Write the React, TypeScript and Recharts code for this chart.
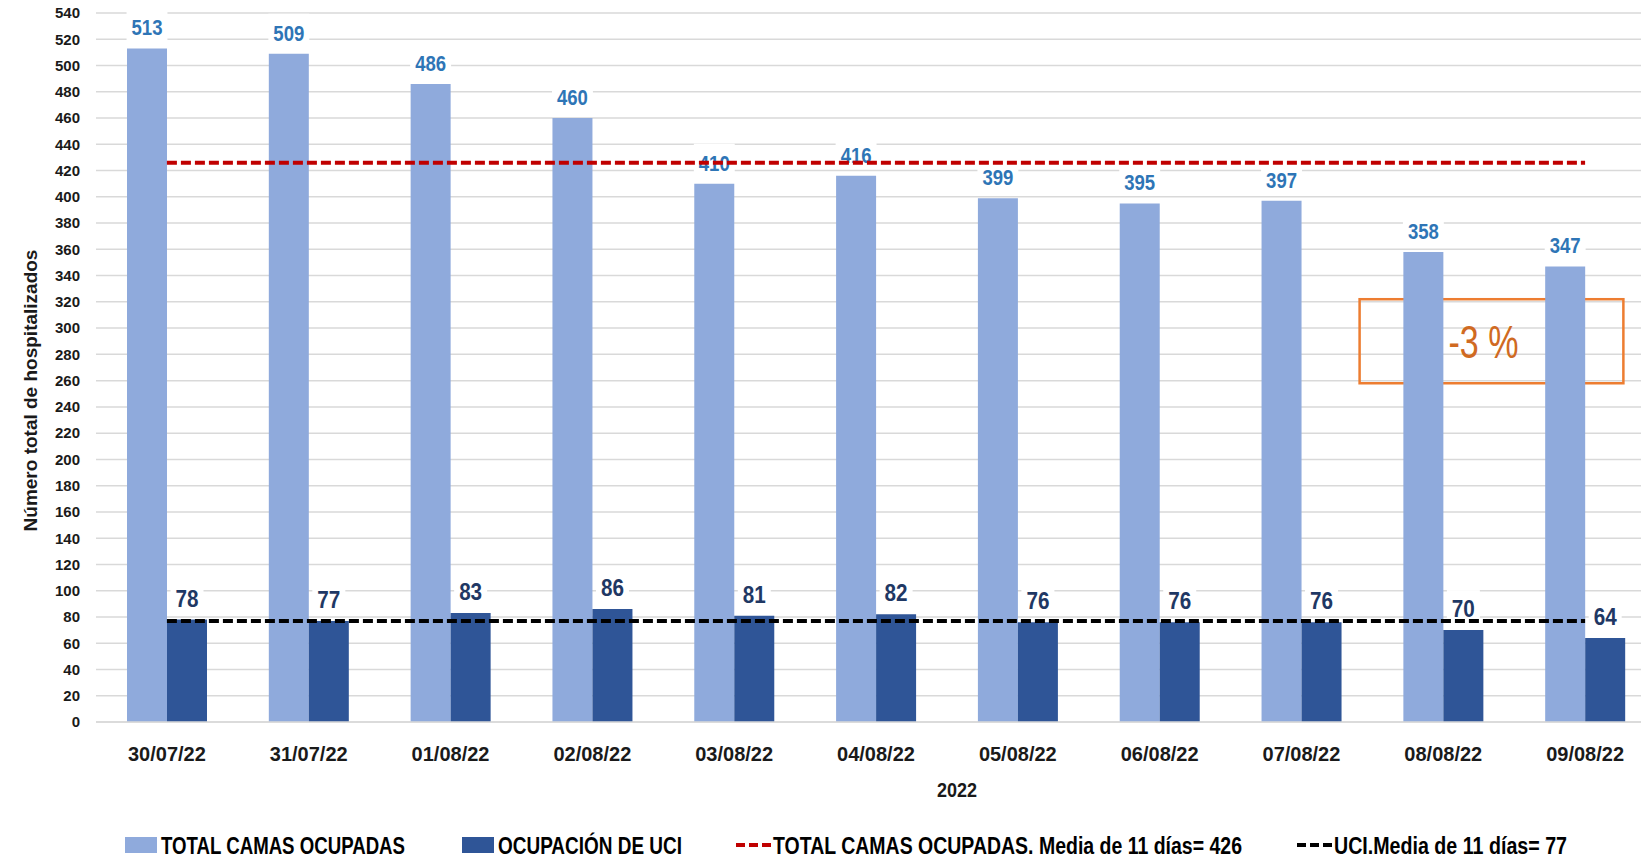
import {
  ComposedChart,
  Bar,
  Line,
  XAxis,
  YAxis,
  CartesianGrid,
  LabelList,
  Label,
  ReferenceArea,
} from "recharts";

// fechas del eje X
const fechas = [
  "30/07/22",
  "31/07/22",
  "01/08/22",
  "02/08/22",
  "03/08/22",
  "04/08/22",
  "05/08/22",
  "06/08/22",
  "07/08/22",
  "08/08/22",
  "09/08/22",
];
const totalCamas = [513, 509, 486, 460, 410, 416, 399, 395, 397, 358, 347];
const camasUci = [78, 77, 83, 86, 81, 82, 76, 76, 76, 70, 64];
const mediaTotal = 426;
const mediaUci = 77;
const yTicks = [
  0, 20, 40, 60, 80, 100, 120, 140, 160, 180, 200, 220, 240, 260, 280, 300, 320,
  340, 360, 380, 400, 420, 440, 460, 480, 500, 520, 540,
];
const variacion = "-3 %";

const data = fechas.map((f, i) => ({
  fecha: f,
  total: totalCamas[i],
  uci: camasUci[i],
  mediaTotal,
  mediaUci,
}));

// no hay Calibri: se usa Liberation Sans comprimida con textLength
const SANS = "'Liberation Sans', Arial, sans-serif";

const C_TOTAL = "#8FAADC";
const C_UCI = "#2F5597";

function makeLabel(color: string, fontSize: number, digitW: number) {
  return (props: any) => {
    const { x, y, width, value } = props;
    const cx = Number(x) + Number(width) / 2;
    const base = Number(y) - 13;
    const w = String(value).length * digitW;
    return (
      <g>
        <rect x={cx - w / 2 - 5} y={base - 27} width={w + 10} height={32} fill="#fff" />
        <text
          x={cx - w / 2}
          y={base}
          textLength={w}
          lengthAdjust="spacingAndGlyphs"
          fill={color}
          fontFamily={SANS}
          fontWeight="bold"
          fontSize={fontSize}
        >
          {value}
        </text>
      </g>
    );
  };
}

// caja naranja con el % de variación
const CajaVariacion = (props: any) => {
  const { x, y, width, height } = props;
  const band = width / 2;
  const left = x - band * 0.09;
  const right = x + band * 1.77;
  const tw = 70;
  const cx = (left + right) / 2 - 8;
  return (
    <g>
      <rect
        x={left}
        y={y}
        width={right - left}
        height={height}
        fill="none"
        stroke="#ED7D31"
        strokeWidth={2.5}
      />
      <text
        x={cx - tw / 2}
        y={y + height / 2 + 17}
        textLength={tw}
        lengthAdjust="spacingAndGlyphs"
        fill="#D06A22"
        fontFamily={SANS}
        fontSize={46}
      >
        {variacion}
      </text>
    </g>
  );
};

const legendItems = [
  { tipo: "bar", color: C_TOTAL, x: 125, texto: "TOTAL CAMAS OCUPADAS", largo: 244 },
  { tipo: "bar", color: C_UCI, x: 462, texto: "OCUPACIÓN DE UCI", largo: 184 },
  {
    tipo: "line",
    color: "#C00000",
    x: 736,
    texto: `TOTAL CAMAS OCUPADAS. Media de 11 días= ${mediaTotal}`,
    largo: 469,
  },
  {
    tipo: "line",
    color: "#000000",
    x: 1297,
    texto: `UCI.Media de 11 días= ${mediaUci}`,
    largo: 233,
  },
];

function Leyenda() {
  return (
    <svg
      width={1641}
      height={38}
      style={{ position: "absolute", left: 0, top: 820 }}
    >
      {legendItems.map((it) => (
        <g key={it.texto}>
          {it.tipo === "bar" ? (
            <rect x={it.x} y={17} width={32} height={16} fill={it.color} />
          ) : (
            <line
              x1={it.x}
              y1={25}
              x2={it.x + 36}
              y2={25}
              stroke={it.color}
              strokeWidth={4}
              strokeDasharray="9 4"
            />
          )}
          <text
            x={it.x + (it.tipo === "bar" ? 36 : 37)}
            y={34}
            textLength={it.largo}
            lengthAdjust="spacingAndGlyphs"
            fontFamily={SANS}
            fontWeight="bold"
            fontSize={23}
            fill="#000"
          >
            {it.texto}
          </text>
        </g>
      ))}
    </svg>
  );
}

export default function App() {
  return (
    <div
      style={{
        position: "fixed",
        left: 0,
        top: 0,
        width: 1641,
        height: 858,
        overflow: "hidden",
        background: "#fff",
      }}
    >
      <ComposedChart
        width={1680}
        height={858}
        data={data}
        margin={{ top: 13, right: 24, left: 0, bottom: 56 }}
        barGap={0}
      >
        <CartesianGrid vertical={false} stroke="#D9D9D9" strokeWidth={1.5} />
        <XAxis
          dataKey="fecha"
          height={80}
          tickLine={false}
          tickSize={0}
          tickMargin={25}
          axisLine={{ stroke: "#D9D9D9", strokeWidth: 1.5 }}
          interval={0}
          tick={{ fill: "#1a1a1a", fontFamily: SANS, fontWeight: "bold", fontSize: 20 }}
        >
          <Label
            content={(p: any) => {
              const vb = p.viewBox;
              const cx = vb.x + vb.width / 2 + 81;
              return (
                <text
                  x={cx - 20}
                  y={vb.y + vb.height - 5}
                  textLength={40}
                  lengthAdjust="spacingAndGlyphs"
                  fill="#1a1a1a"
                  fontFamily={SANS}
                  fontWeight="bold"
                  fontSize={21}
                >
                  2022
                </text>
              );
            }}
          />
        </XAxis>
        <YAxis
          width={96}
          domain={[0, 540]}
          ticks={yTicks}
          interval={0}
          tickLine={false}
          tickSize={0}
          tickMargin={16}
          axisLine={false}
          tick={{ fill: "#1a1a1a", fontFamily: SANS, fontWeight: "bold", fontSize: 15 }}
        >
          <Label
            content={(p: any) => {
              const vb = p.viewBox;
              const cx = 30;
              const cy = vb.y + vb.height / 2 + 23;
              return (
                <text
                  x={cx}
                  y={cy}
                  transform={`rotate(-90, ${cx}, ${cy})`}
                  textAnchor="middle"
                  dominantBaseline="central"
                  fill="#1a1a1a"
                  fontFamily={SANS}
                  fontWeight="bold"
                  fontSize={19}
                >
                  Número total de hospitalizados
                </text>
              );
            }}
          />
        </YAxis>

        <ReferenceArea
          x1="08/08/22"
          x2="09/08/22"
          y1={258}
          y2={322}
          shape={CajaVariacion}
          ifOverflow="visible"
        />

        <Bar dataKey="total" fill={C_TOTAL} barSize={40} isAnimationActive={false}>
          <LabelList dataKey="total" content={makeLabel("#2E75B6", 22, 10.3)} />
        </Bar>
        <Bar dataKey="uci" fill={C_UCI} barSize={40} isAnimationActive={false}>
          <LabelList dataKey="uci" content={makeLabel("#1F3864", 24, 11.5)} />
        </Bar>

        {/* las medias van por encima de las etiquetas */}
        <Line
          dataKey="mediaTotal"
          stroke="#C00000"
          strokeWidth={4}
          strokeDasharray="10 4"
          dot={false}
          activeDot={false}
          isAnimationActive={false}
          zIndex={3000}
        />
        <Line
          dataKey="mediaUci"
          stroke="#000000"
          strokeWidth={4}
          strokeDasharray="10 4"
          dot={false}
          activeDot={false}
          isAnimationActive={false}
          zIndex={3000}
        />
      </ComposedChart>

      <Leyenda />
    </div>
  );
}
